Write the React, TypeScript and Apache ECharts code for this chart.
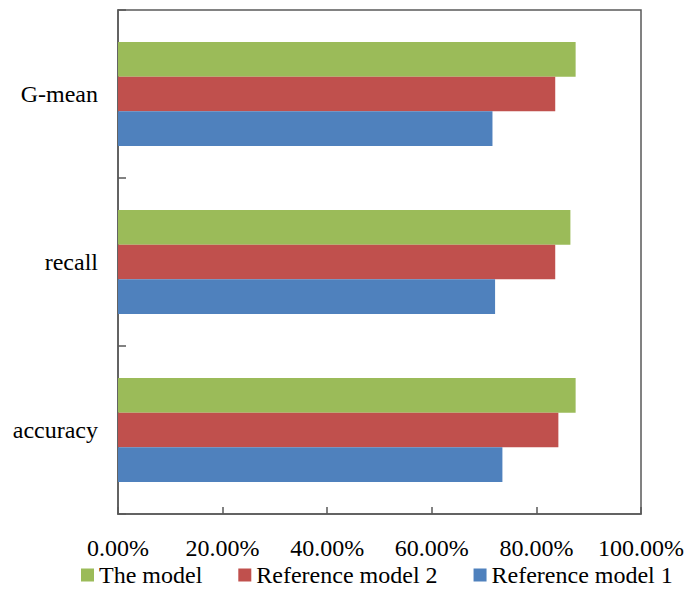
import React, { useEffect, useRef } from "react";
import * as echarts from "echarts";

const categories = ["accuracy", "recall", "G-mean"];
const refModel1 = [73.5, 72.1, 71.6];
const refModel2 = [84.2, 83.6, 83.6];
const theModel = [87.5, 86.5, 87.5];
const xTicks = { min: 0, max: 100, interval: 20 };

const FONT = "Liberation Serif";
const AXIS_COLOR = "#595959";

export default function App() {
  const ref = useRef<HTMLDivElement>(null);
  useEffect(() => {
    if (!ref.current) return;
    const chart = echarts.init(ref.current, undefined, { renderer: "svg" });
    chart.setOption({
      animation: false,
      backgroundColor: "#ffffff",
      textStyle: { fontFamily: FONT, color: "#000" },
      grid: {
        left: 118,
        right: 45,
        top: 10,
        bottom: 75,
        show: true,
        borderColor: AXIS_COLOR,
        borderWidth: 1.5,
      },
      legend: {
        data: ["The model", "Reference model 2", "Reference model 1"],
        left: 81,
        top: 563,
        padding: 0,
        itemWidth: 13,
        itemHeight: 13,
        itemGap: 36,
        icon: "rect",
        textStyle: { fontFamily: FONT, fontSize: 24, lineHeight: 24, color: "#000" },
      },
      xAxis: {
        type: "value",
        min: xTicks.min,
        max: xTicks.max,
        interval: xTicks.interval,
        axisLine: { show: true, lineStyle: { color: AXIS_COLOR, width: 1.5 } },
        axisTick: { show: true, inside: true, length: 7, lineStyle: { color: AXIS_COLOR, width: 1.5 } },
        splitLine: { show: false },
        axisLabel: {
          fontFamily: FONT,
          fontSize: 24,
          color: "#000",
          margin: 22,
          formatter: (v: number) => v.toFixed(2) + "%",
        },
      },
      yAxis: {
        type: "category",
        data: categories,
        axisLine: { show: true, lineStyle: { color: AXIS_COLOR, width: 1.5 } },
        axisTick: { show: true, inside: true, length: 8, lineStyle: { color: AXIS_COLOR, width: 1.5 } },
        axisLabel: { fontFamily: FONT, fontSize: 24, color: "#000", margin: 20 },
      },
      series: [
        {
          name: "The model",
          type: "bar",
          data: theModel,
          itemStyle: { color: "#9BBB59" },
          barGap: "0%",
          barCategoryGap: "38%",
        },
        {
          name: "Reference model 2",
          type: "bar",
          data: refModel2,
          itemStyle: { color: "#C0504D" },
          barGap: "0%",
          barCategoryGap: "38%",
        },
        {
          name: "Reference model 1",
          type: "bar",
          data: refModel1,
          itemStyle: { color: "#4F81BD" },
          barGap: "0%",
          barCategoryGap: "38%",
        },
      ],
    });
    return () => chart.dispose();
  }, []);
  return <div ref={ref} style={{ width: 687, height: 589, position: "absolute", left: 0, top: 0 }} />;
}
